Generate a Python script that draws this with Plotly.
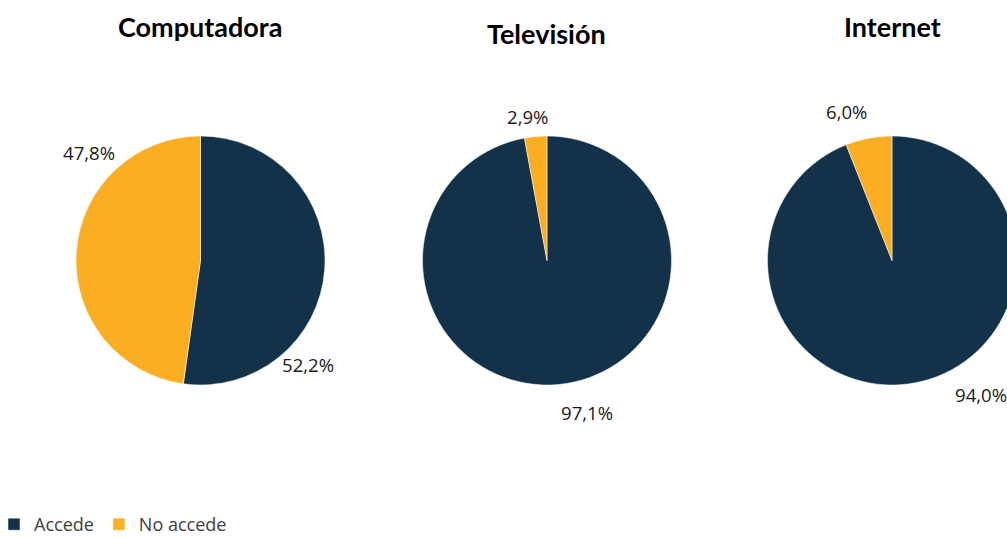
import plotly.graph_objects as go

# ---- data ----
categories = ["Accede", "No accede"]
titles = ["Computadora", "Televisión", "Internet"]
computadora = [52.2, 47.8]
television = [97.1, 2.9]
internet = [94.0, 6.0]

series = [computadora, television, internet]
colors = ["#133249", "#FBAE22"]

# ---- layout (pixel positions on the 1007x538 page) ----
W, H = 1020, 548  # figure slightly larger than the window: right pie runs past the edge, like the reference

pie_centers = [(200.5, 260.5), (547, 260.5), (892, 260.5)]
pie_r = 124.5
title_pos = [(200, 27), (546.5, 33), (892.5, 27)]
label_pos = [[(308, 364), (89, 152.5)], [(587, 412), (527.5, 116.5)], [(981, 394), (846, 112)]]

fig = go.Figure()
for i, vals in enumerate(series):
    cx, cy = pie_centers[i]
    x0, x1 = (cx - pie_r) / W, (cx + pie_r) / W
    y0, y1 = 1 - (cy + pie_r) / H, 1 - (cy - pie_r) / H
    fig.add_trace(go.Pie(
        labels=categories, values=vals, sort=False, direction="clockwise",
        rotation=0, textinfo="none", hoverinfo="label+percent",
        marker=dict(colors=colors, line=dict(color="white", width=0.5)),
        domain=dict(x=[x0, min(x1, 1.0)], y=[y0, y1]),
        showlegend=(i == 0), name=titles[i],
    ))

annotations = []
for i, t in enumerate(titles):
    px, py = title_pos[i]
    annotations.append(dict(text="<b>%s</b>" % t, x=px / W, y=1 - py / H,
                            xref="paper", yref="paper", showarrow=False,
                            xanchor="center", yanchor="middle",
                            font=dict(family="Lato", size=27, color="#000000")))
    for j, v in enumerate(series[i]):
        lx, ly = label_pos[i][j]
        annotations.append(dict(text=("%.1f%%" % v).replace(".", ","), x=lx / W, y=1 - ly / H,
                                xref="paper", yref="paper", showarrow=False,
                                xanchor="center", yanchor="middle",
                                font=dict(family="Open Sans", size=18.6, color="#1a1a1a")))

fig.update_layout(
    width=W, height=H, margin=dict(l=0, r=0, t=0, b=0, autoexpand=False),
    paper_bgcolor="white", plot_bgcolor="white",
    annotations=annotations,
    legend=dict(orientation="h", x=-6 / W, y=1 - 524.5 / H, xanchor="left", yanchor="middle",
                font=dict(family="Open Sans", size=18, color="#404040"),
                traceorder="normal", itemwidth=30),
)

fig.write_html("out.html", config={"displayModeBar": False},
               post_script="document.body.style.margin='0';document.body.style.overflow='hidden';")
